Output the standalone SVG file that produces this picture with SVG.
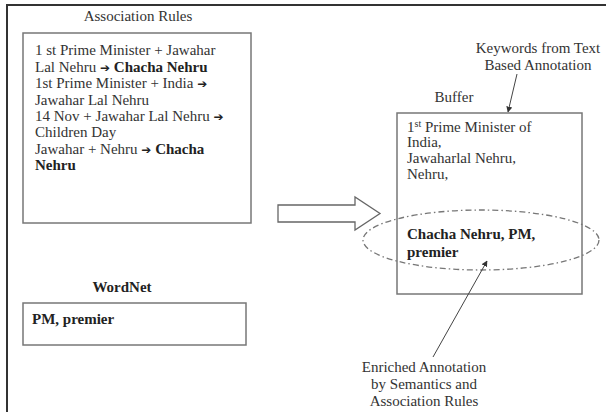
<svg xmlns="http://www.w3.org/2000/svg" width="606" height="412" viewBox="0 0 606 412" font-family="'Liberation Serif', 'Times New Roman', serif">
<defs>
<style>
text{font-family:"Liberation Serif","Times New Roman",serif;font-size:15px;fill:#333}
.b{font-weight:bold;fill:#222}
.ar{font-family:"DejaVu Sans",sans-serif;font-size:12px;font-weight:bold;fill:#222}
.box{fill:#fff;stroke:#777;stroke-width:1.5}
.ln{stroke:#444;stroke-width:1;fill:none}
</style>
<marker id="ah" viewBox="0 0 10 10" refX="9" refY="5" markerWidth="6" markerHeight="6" orient="auto-start-reverse" markerUnits="userSpaceOnUse">
<path d="M0,0 L10,5 L0,10 z" fill="#333"/>
</marker>
</defs>
<rect width="606" height="412" fill="#fff"/>
<path d="M7,412 V5 H606" fill="none" stroke="#333" stroke-width="2"/>

<g id="association-rules">
<text x="138" y="21" text-anchor="middle">Association Rules</text>
<rect class="box" x="23" y="33" width="228" height="190"/>
<text x="35" y="55">1 st Prime Minister + Jawahar</text>
<text x="35" y="71.5">Lal Nehru <tspan class="ar">➔</tspan><tspan class="b"> Chacha Nehru</tspan></text>
<text x="35" y="88">1st Prime Minister + India <tspan class="ar">➔</tspan></text>
<text x="35" y="104.5">Jawahar Lal Nehru</text>
<text x="35" y="121">14 Nov + Jawahar Lal Nehru <tspan class="ar">➔</tspan></text>
<text x="35" y="137">Children Day</text>
<text x="35" y="153.5">Jawahar + Nehru <tspan class="ar">➔</tspan><tspan class="b"> Chacha</tspan></text>
<text x="35" y="170" class="b">Nehru</text>
</g>

<g id="wordnet">
<text x="122" y="292" text-anchor="middle" class="b">WordNet</text>
<rect class="box" x="23" y="303" width="223" height="42"/>
<text x="32" y="324" class="b">PM, premier</text>
</g>

<g id="buffer">
<text x="454" y="102" text-anchor="middle">Buffer</text>
<rect class="box" x="397" y="113" width="185" height="181"/>
<text x="407" y="132">1<tspan font-size="10" dy="-5">st</tspan><tspan dy="5"> Prime Minister of</tspan></text>
<text x="407" y="147">India,</text>
<text x="407" y="163">Jawaharlal Nehru,</text>
<text x="407" y="179">Nehru,</text>
<text x="407" y="239" class="b">Chacha Nehru, PM,</text>
<text x="407" y="257" class="b">premier</text>
</g>

<g id="enriched-ellipse">
<ellipse cx="481" cy="240" rx="118" ry="30" fill="none" stroke="#777" stroke-width="1.3" stroke-dasharray="6 3 1.5 3"/>
</g>

<g id="keywords-label">
<text x="538" y="53" text-anchor="middle">Keywords from Text</text>
<text x="538" y="70" text-anchor="middle">Based Annotation</text>
</g>

<g id="enriched-label">
<text x="424" y="372" text-anchor="middle">Enriched Annotation</text>
<text x="424" y="389" text-anchor="middle">by Semantics and</text>
<text x="424" y="406" text-anchor="middle">Association Rules</text>
</g>

<g id="connectors">
<path d="M278,205 H355 V197 L380,213.5 L355,230 V222 H278 Z" fill="#fff" stroke="#666" stroke-width="1.3"/>
<line class="ln" x1="517" y1="74" x2="508" y2="112" marker-end="url(#ah)"/>
<line class="ln" x1="433" y1="357" x2="487" y2="261" marker-end="url(#ah)"/>
</g>
</svg>
